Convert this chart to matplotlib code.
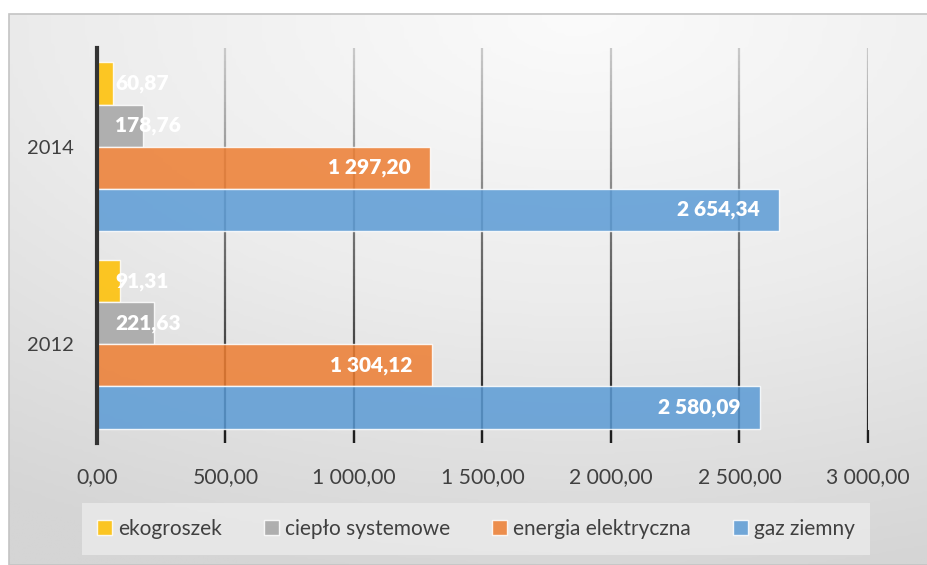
import matplotlib.pyplot as plt
import numpy as np
from matplotlib.collections import LineCollection
from matplotlib.colors import LinearSegmentedColormap
from matplotlib.patches import Rectangle

years = ['2012', '2014']
series = ['ekogroszek', 'ciepło systemowe', 'energia elektryczna', 'gaz ziemny']
values = {
    'ekogroszek': [91.31, 60.87],
    'ciepło systemowe': [221.63, 178.76],
    'energia elektryczna': [1304.12, 1297.20],
    'gaz ziemny': [2580.09, 2654.34],
}
colors = ['#FFC000', '#A5A5A5', '#ED7D31', '#5B9BD5']
x_ticks = [0, 500, 1000, 1500, 2000, 2500, 3000]


def pl_format(v):
    # format polski: spacja jako separator tysięcy, przecinek dziesiętny
    s = f"{v:,.2f}"
    return s.replace(',', ' ').replace('.', ',')


plt.rcParams['font.family'] = ['Lato', 'DejaVu Sans']

fig = plt.figure(figsize=(9.28, 5.65), dpi=100)

# tło wykresu z gradientem
bg = fig.add_axes([9 / 928, 0, 1 - 9 / 928, 1 - 14 / 565], zorder=-10)
gx, gy = np.meshgrid(np.linspace(0, 1, 200), np.linspace(0, 1, 200))
dist = np.sqrt(((gx - 0.62) / 1.1) ** 2 + ((gy - 0.0) / 1.0) ** 2)
bg_cmap = LinearSegmentedColormap.from_list('bg', ['#fbfbfb', '#ececec', '#d5d5d5'])
bg.imshow(dist, cmap=bg_cmap, aspect='auto', extent=[0, 1, 0, 1], origin='upper',
          vmin=0, vmax=1.05)
bg.set_xlim(0, 1)
bg.set_ylim(0, 1)
bg.axis('off')
fig.add_artist(Rectangle((9 / 928, 0), 1, 1 - 14 / 565, transform=fig.transFigure,
                         fill=False, edgecolor='#c4c4c4', linewidth=1.2))

ax = fig.add_axes([97 / 928, 122 / 565, 771 / 928, 395 / 565])
ax.patch.set_alpha(0)

y = np.arange(len(years))
h = 0.2135
offsets = [1.5 * h, 0.5 * h, -0.5 * h, -1.5 * h]

ax.set_xlim(0, 3000)
ax.set_ylim(-0.5, 1.5)

# linie siatki z gradientem (jasne u góry, ciemne na dole)
grid_cmap = LinearSegmentedColormap.from_list('grid', ['#1e1e1e', '#6e6e6e', '#c8c8c8'])
ys = np.linspace(-0.5, 1.5, 60)
for xt in x_ticks[1:]:
    segs = [[(xt, ys[i]), (xt, ys[i + 1])] for i in range(len(ys) - 1)]
    lc = LineCollection(segs, colors=grid_cmap(np.linspace(0, 1, len(segs))),
                        linewidths=1.6, zorder=1)
    ax.add_collection(lc)

for name, color, off in zip(series, colors, offsets):
    bars = ax.barh(y + off, values[name], height=h, color=color, alpha=0.85,
                   edgecolor=(1, 1, 1, 0.5), linewidth=1, zorder=2, label=name)
    for yi, v in zip(y + off, values[name]):
        if v > 600:
            ax.annotate(pl_format(v), xy=(v, yi), xytext=(-14, 0), textcoords='offset points',
                        ha='right', va='center', color='white', fontsize=15,
                        fontweight='heavy', zorder=5)
        else:
            ax.annotate(pl_format(v), xy=(0, yi), xytext=(13, 0), textcoords='offset points',
                        ha='left', va='center', color='white', fontsize=15,
                        fontweight='heavy', zorder=5)

ax.set_xticks(x_ticks)
ax.set_xticklabels([pl_format(t) for t in x_ticks])
ax.set_yticks(y)
ax.set_yticklabels(years)
ax.tick_params(axis='x', direction='in', length=9.5, width=1.6, color='#1e1e1e',
               labelsize=15.2, labelcolor='#404040', pad=17)
ax.tick_params(axis='y', length=0, labelsize=14.5, labelcolor='#404040', pad=16.5)

for side in ['top', 'right', 'bottom']:
    ax.spines[side].set_visible(False)
ax.spines['left'].set_color('#333333')
ax.spines['left'].set_linewidth(3)
ax.spines['left'].set_zorder(4)

leg = fig.legend(loc='center', bbox_to_anchor=(476 / 928, 1 - 529 / 565), ncol=4,
                 fontsize=15, frameon=True, handlelength=0.72, handleheight=0.72,
                 handletextpad=0.3, columnspacing=2.0, borderpad=0.55,
                 labelcolor='#404040')
leg.get_frame().set_facecolor('#ebebeb')
leg.get_frame().set_alpha(0.8)
leg.get_frame().set_edgecolor('none')
leg.get_frame().set_boxstyle('square', pad=0.2)

fig.savefig('out.png', dpi=100)
